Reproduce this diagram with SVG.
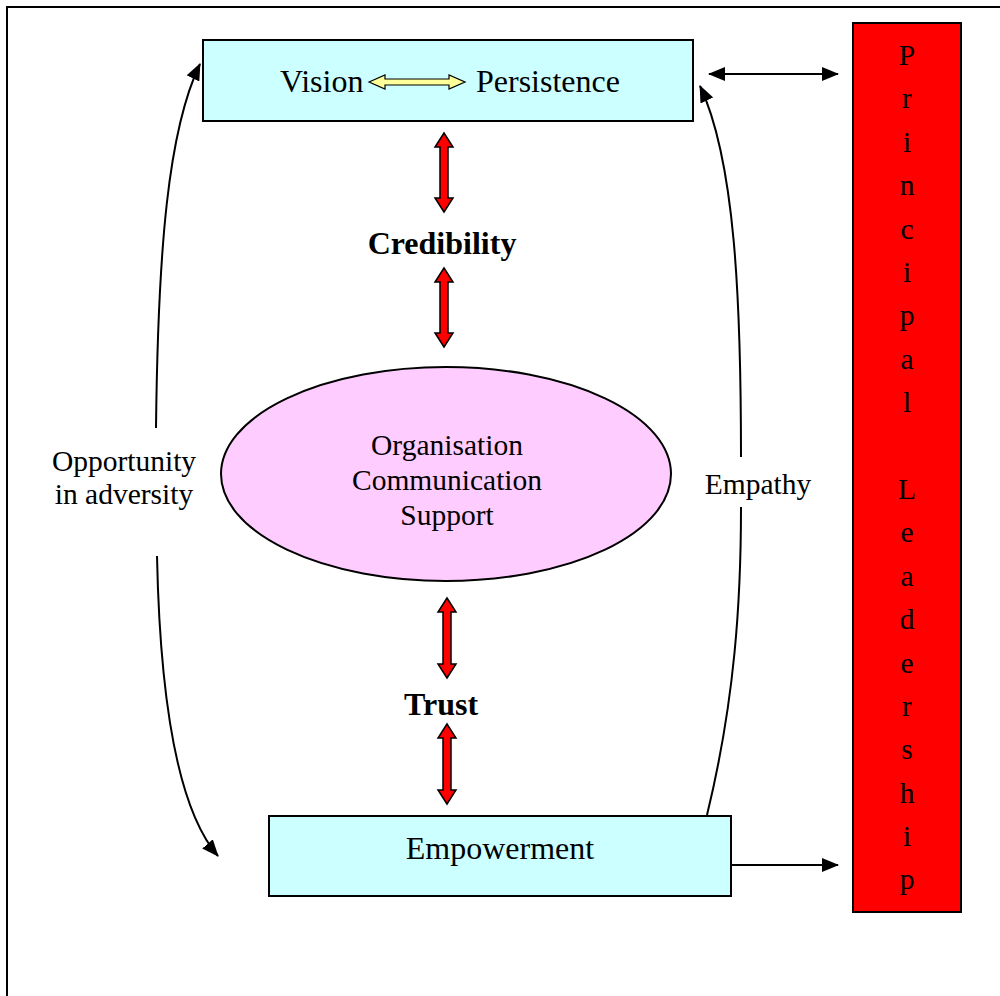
<svg xmlns="http://www.w3.org/2000/svg" width="1000" height="996" viewBox="0 0 1000 996">
<style>
.t{font-family:"Liberation Serif","Times New Roman",serif;fill:#000}
.big{font-size:32px}
.sm{font-size:29.5px}
.box{stroke:#000;stroke-width:2}
.con{fill:none;stroke:#000;stroke-width:2}
.red{fill:#FF0000;stroke:#000;stroke-width:1.5}
</style>
<defs>
<marker id="ah" markerUnits="userSpaceOnUse" markerWidth="18" markerHeight="14" refX="16" refY="7" orient="auto-start-reverse">
<path d="M0,0 L17,7 L0,14 Z" fill="#000"/>
</marker>
</defs>
<rect width="1000" height="996" fill="#fff"/>
<g id="frame">
<path d="M7,996 L7,7 L1000,7" fill="none" stroke="#000" stroke-width="2"/>
</g>
<g id="vision">
<rect class="box" x="203" y="40" width="490" height="81" fill="#CCFFFF"/>
<text class="t big" x="280" y="92">Vision</text>
<path d="M369,82 L385,75 L385,79 L449,79 L449,75 L465,82 L449,89 L449,85 L385,85 L385,89 Z" fill="#FFFF99" stroke="#000" stroke-width="1.2"/>
<text class="t big" x="476" y="92">Persistence</text>
</g>
<g id="credibility">
<text class="t big" x="442" y="254" font-weight="bold" text-anchor="middle">Credibility</text>
</g>
<g id="ellipse">
<ellipse class="box" cx="446" cy="474" rx="225" ry="107" fill="#FFCCFF"/>
<text class="t sm" x="447" y="455" text-anchor="middle">Organisation</text>
<text class="t sm" x="447" y="490" text-anchor="middle">Communication</text>
<text class="t sm" x="447" y="525" text-anchor="middle">Support</text>
</g>
<g id="trust">
<text class="t big" x="441" y="715" font-weight="bold" text-anchor="middle">Trust</text>
</g>
<g id="empowerment">
<rect class="box" x="269" y="816" width="462" height="80" fill="#CCFFFF"/>
<text class="t big" x="500" y="859" text-anchor="middle">Empowerment</text>
</g>
<g id="leadership">
<rect class="box" x="853" y="23" width="108" height="889" fill="#FF0000"/>
<g class="t sm" text-anchor="middle">
<text x="907" y="65">P</text>
<text x="907" y="108">r</text>
<text x="907" y="152">i</text>
<text x="907" y="195">n</text>
<text x="907" y="239">c</text>
<text x="907" y="282">i</text>
<text x="907" y="325">p</text>
<text x="907" y="369">a</text>
<text x="907" y="412">l</text>
<text x="907" y="499">L</text>
<text x="907" y="542">e</text>
<text x="907" y="586">a</text>
<text x="907" y="629">d</text>
<text x="907" y="673">e</text>
<text x="907" y="716">r</text>
<text x="907" y="759">s</text>
<text x="907" y="803">h</text>
<text x="907" y="846">i</text>
<text x="907" y="889">p</text>
</g>
</g>
<g id="labels">
<text class="t sm" x="124" y="471" text-anchor="middle">Opportunity</text>
<text class="t sm" x="124" y="504" text-anchor="middle">in adversity</text>
<text class="t sm" x="758" y="494" text-anchor="middle">Empathy</text>
</g>
<g id="connectors">
<path class="red" d="M444,133 L453,147 L448,147 L448,198 L453,198 L444,212 L435,198 L440,198 L440,147 L435,147 Z"/>
<path class="red" d="M444,268 L453,282 L448,282 L448,333 L453,333 L444,347 L435,333 L440,333 L440,282 L435,282 Z"/>
<path class="red" d="M447,598 L456,612 L451,612 L451,664 L456,664 L447,678 L438,664 L443,664 L443,612 L438,612 Z"/>
<path class="red" d="M447,724 L456,738 L451,738 L451,790 L456,790 L447,804 L438,790 L443,790 L443,738 L438,738 Z"/>
<path class="con" d="M709,74 L838,74" marker-start="url(#ah)" marker-end="url(#ah)"/>
<path class="con" d="M731,865 L838,865" marker-end="url(#ah)"/>
<path class="con" d="M156,428 C158,250 168,130 200,64" marker-end="url(#ah)"/>
<path class="con" d="M157,556 C160,700 178,810 218,856" marker-end="url(#ah)"/>
<path class="con" d="M707,815 C735,700 741,600 741,507"/>
<path class="con" d="M741,457 C741,300 735,160 700,86" marker-end="url(#ah)"/>
</g>
</svg>
